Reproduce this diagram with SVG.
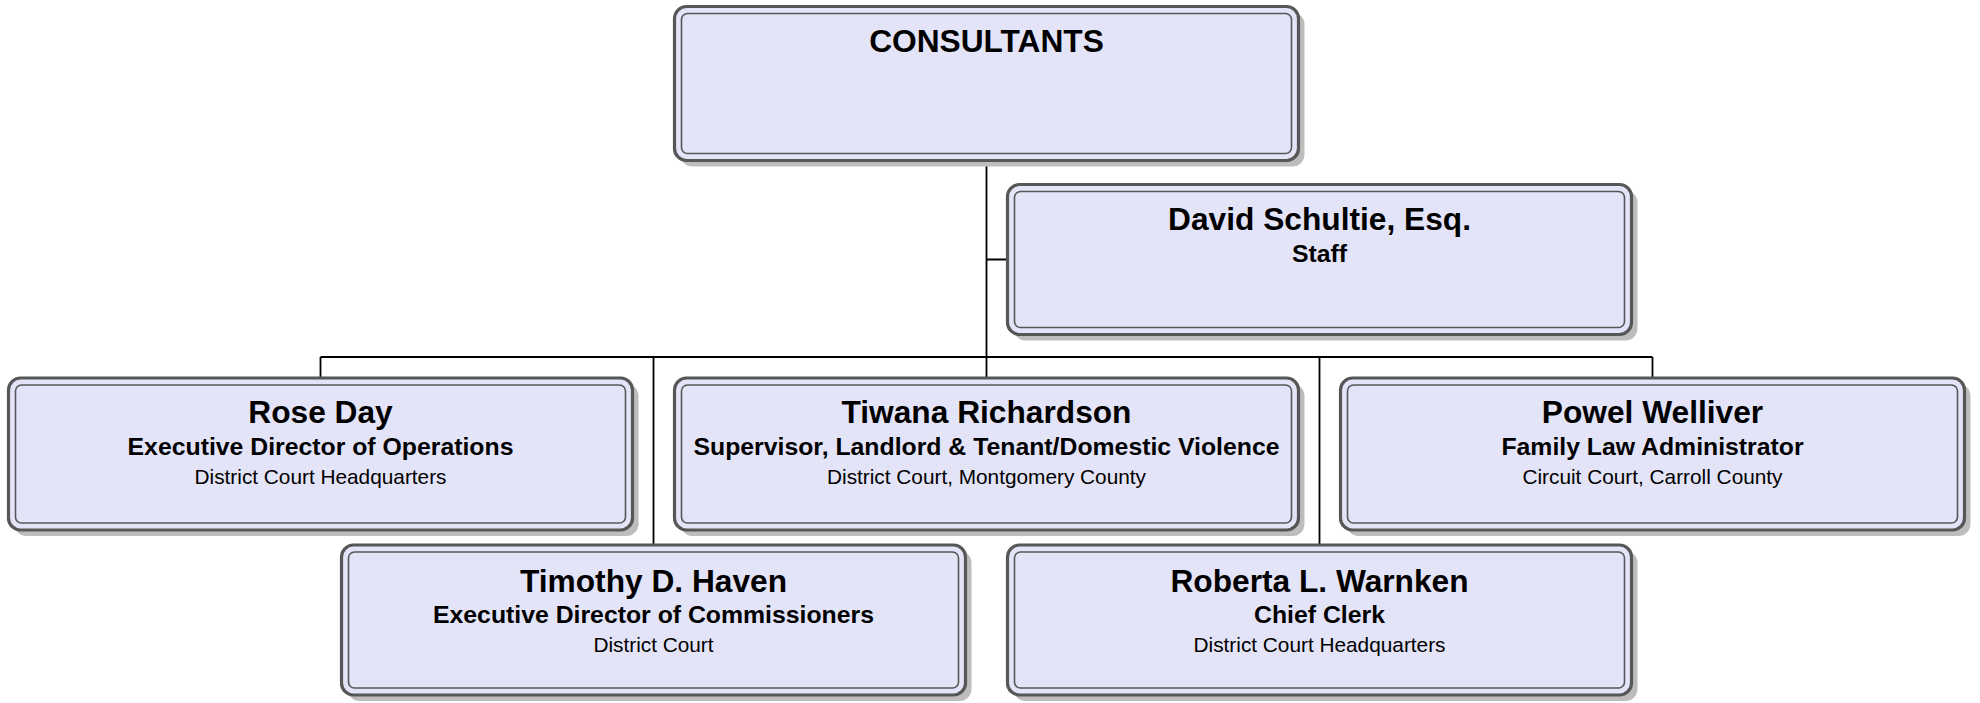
<svg xmlns="http://www.w3.org/2000/svg" width="1980" height="703" viewBox="0 0 1980 703">
<style>
.shadow{fill:#bdbdbd;stroke:none}
.outer{fill:#e4e4f8;stroke:#575757;stroke-width:3.2}
.inner{fill:none;stroke:#575757;stroke-width:1.6}
.conn{stroke:#000;stroke-width:1.8;fill:none}
text{font-family:"Liberation Sans",Arial,Helvetica,sans-serif;text-anchor:middle;fill:#000}
.name{font-size:31.7px;font-weight:bold}
.role{font-size:24.8px;font-weight:bold}
.loc{font-size:20.8px}
</style>
<rect width="1980" height="703" fill="#fff"/>
<g id="connectors">
<path class="conn" d="M986.5 162V377M986.5 259.5H1006M320.5 357H1652.5M320.5 357V377M653.5 357V544M1319.5 357V544M1652.5 357V377"/>
</g>
<g id="consultants">
<rect class="shadow" x="680.5" y="12.5" width="624" height="154" rx="12"/>
<rect class="outer" x="674.5" y="6.5" width="624" height="154" rx="12"/>
<rect class="inner" x="681.5" y="13.5" width="610" height="140" rx="6"/>
<text class="name" x="986.5" y="51.5">CONSULTANTS</text>
</g>
<g id="david">
<rect class="shadow" x="1013.5" y="190.5" width="624" height="150" rx="12"/>
<rect class="outer" x="1007.5" y="184.5" width="624" height="150" rx="12"/>
<rect class="inner" x="1014.5" y="191.5" width="610" height="136" rx="6"/>
<text class="name" x="1319.5" y="230">David Schultie, Esq.</text>
<text class="role" x="1319.5" y="261.5">Staff</text>
</g>
<g id="rose">
<rect class="shadow" x="14.5" y="384" width="624" height="152" rx="12"/>
<rect class="outer" x="8.5" y="378" width="624" height="152" rx="12"/>
<rect class="inner" x="15.5" y="385" width="610" height="138" rx="6"/>
<text class="name" x="320.5" y="423.3">Rose Day</text>
<text class="role" x="320.5" y="454.5">Executive Director of Operations</text>
<text class="loc" x="320.5" y="483.5">District Court Headquarters</text>
</g>
<g id="tiwana">
<rect class="shadow" x="680.5" y="384" width="624" height="152" rx="12"/>
<rect class="outer" x="674.5" y="378" width="624" height="152" rx="12"/>
<rect class="inner" x="681.5" y="385" width="610" height="138" rx="6"/>
<text class="name" x="986.5" y="423.3">Tiwana Richardson</text>
<text class="role" x="986.5" y="454.5">Supervisor, Landlord &amp; Tenant/Domestic Violence</text>
<text class="loc" x="986.5" y="483.5">District Court, Montgomery County</text>
</g>
<g id="powel">
<rect class="shadow" x="1346.5" y="384" width="624" height="152" rx="12"/>
<rect class="outer" x="1340.5" y="378" width="624" height="152" rx="12"/>
<rect class="inner" x="1347.5" y="385" width="610" height="138" rx="6"/>
<text class="name" x="1652.5" y="423.3">Powel Welliver</text>
<text class="role" x="1652.5" y="454.5">Family Law Administrator</text>
<text class="loc" x="1652.5" y="483.5">Circuit Court, Carroll County</text>
</g>
<g id="timothy">
<rect class="shadow" x="347.5" y="551" width="624" height="150" rx="12"/>
<rect class="outer" x="341.5" y="545" width="624" height="150" rx="12"/>
<rect class="inner" x="348.5" y="552" width="610" height="136" rx="6"/>
<text class="name" x="653.5" y="591.5">Timothy D. Haven</text>
<text class="role" x="653.5" y="623">Executive Director of Commissioners</text>
<text class="loc" x="653.5" y="651.5">District Court</text>
</g>
<g id="roberta">
<rect class="shadow" x="1013.5" y="551" width="624" height="150" rx="12"/>
<rect class="outer" x="1007.5" y="545" width="624" height="150" rx="12"/>
<rect class="inner" x="1014.5" y="552" width="610" height="136" rx="6"/>
<text class="name" x="1319.5" y="591.5">Roberta L. Warnken</text>
<text class="role" x="1319.5" y="623">Chief Clerk</text>
<text class="loc" x="1319.5" y="651.5">District Court Headquarters</text>
</g>
</svg>
